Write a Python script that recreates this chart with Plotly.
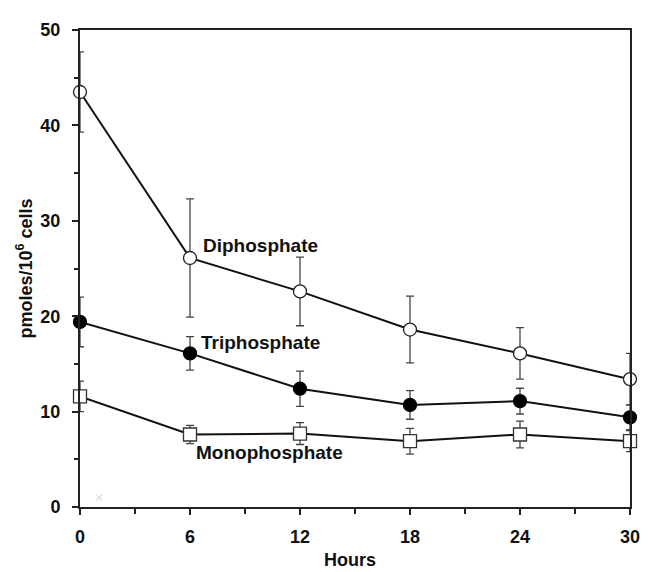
import plotly.graph_objects as go

hours = [0, 6, 12, 18, 24, 30]

di_vals = [43.5, 26.1, 22.6, 18.6, 16.1, 13.4]
di_err = [4.2, 6.2, 3.6, 3.5, 2.7, 2.7]

tri_vals = [19.4, 16.1, 12.4, 10.7, 11.1, 9.4]
tri_err = [2.6, 1.75, 1.85, 1.5, 1.35, 1.3]

mono_vals = [11.6, 7.6, 7.7, 6.9, 7.6, 6.9]
mono_err = [1.6, 0.95, 1.15, 1.35, 1.4, 1.1]

series_labels = ["Diphosphate", "Triphosphate", "Monophosphate"]
x_ticks = [0, 6, 12, 18, 24, 30]
y_ticks = [0, 10, 20, 30, 40, 50]

FONT = "Arial, Liberation Sans, sans-serif"
LINE = "#111111"
ERR = "#444444"

fig = go.Figure()

def add(vals, err, symbol, fill, outline):
    fig.add_trace(go.Scatter(
        x=hours, y=vals, mode="lines+markers",
        line=dict(color=LINE, width=2),
        marker=dict(symbol=symbol, size=13, color=fill,
                    line=dict(color=outline, width=1.3)),
        error_y=dict(type="data", array=err, visible=True,
                     color=ERR, thickness=1.3, width=4),
        cliponaxis=False, showlegend=False, hoverinfo="x+y"))

add(di_vals, di_err, "circle", "white", "#222222")
add(tri_vals, tri_err, "circle", "black", "black")
add(mono_vals, mono_err, "square", "white", "#333333")

# small faint artifact mark in the original
fig.add_trace(go.Scatter(x=[1.05], y=[1.0], mode="markers",
                         marker=dict(symbol="x-thin", size=6,
                                     line=dict(color="#c8c8c8", width=1)),
                         showlegend=False, hoverinfo="skip"))

axis_common = dict(
    showline=True, linecolor="#222222", linewidth=2, mirror=True,
    showgrid=False, zeroline=False, ticks="outside", tickcolor="#222222",
    tickwidth=1.5, ticklen=6,
    tickfont=dict(family=FONT, size=18, color="#111111", weight="bold"),
)

fig.update_xaxes(range=[0, 30], tickvals=x_ticks, ticktext=[str(v) for v in x_ticks],
                 minor=dict(tickvals=[3, 9, 15, 21, 27], ticks="outside", ticklen=5,
                            tickcolor="#222222", tickwidth=1.5),
                 ticklabelstandoff=6, **axis_common)
fig.update_yaxes(range=[0, 50], tickvals=y_ticks, ticktext=[str(v) for v in y_ticks],
                 minor=dict(tickvals=[5, 15, 25, 35, 45], ticks="outside", ticklen=4,
                            tickcolor="#222222", tickwidth=1.5),
                 ticklabelstandoff=8, **axis_common)

lab_font = dict(family=FONT, size=19, color="#111111", weight="bold")
# series labels placed in data coordinates
fig.add_annotation(x=6.6, y=27.4, text=series_labels[0], showarrow=False,
                   xanchor="left", yanchor="middle", font=lab_font)
fig.add_annotation(x=6.5, y=17.2, text=series_labels[1], showarrow=False,
                   xanchor="left", yanchor="middle", font=lab_font)
fig.add_annotation(x=6.2, y=5.7, text=series_labels[2], showarrow=False,
                   xanchor="left", yanchor="middle", font=lab_font)

# axis titles
fig.add_annotation(x=-0.1, y=0.5, xref="paper", yref="paper",
                   text="pmoles/10<sup>6</sup> cells", textangle=-90, showarrow=False,
                   xanchor="center", yanchor="middle",
                   font=dict(family=FONT, size=18, color="#111111", weight="bold"))
fig.add_annotation(x=0.49, y=-0.111, xref="paper", yref="paper",
                   text="Hours", showarrow=False, xanchor="center", yanchor="middle",
                   font=dict(family=FONT, size=18, color="#111111", weight="bold"))

# page body has an 8px margin; size the figure so the plot lands where the reference has it
fig.update_layout(width=644, height=564,
                  margin=dict(l=72, r=13, t=13, b=65),
                  paper_bgcolor="white", plot_bgcolor="white")

fig.write_html("out.html")
